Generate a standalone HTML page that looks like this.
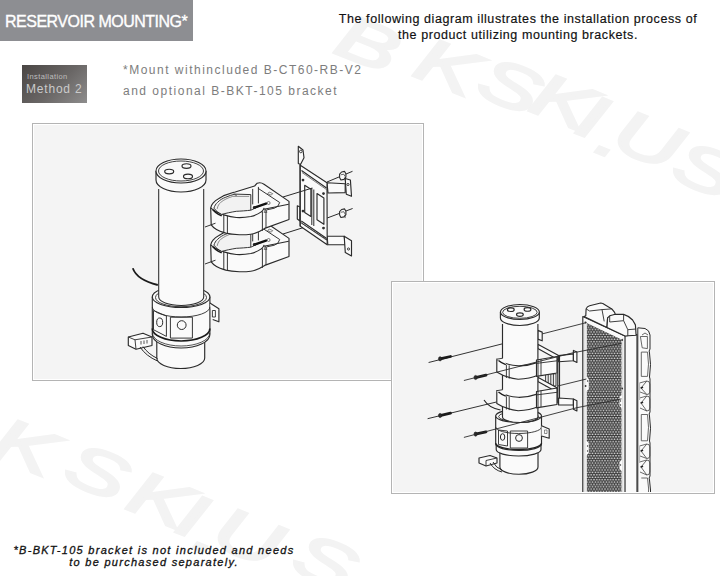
<!DOCTYPE html>
<html><head><meta charset="utf-8">
<style>
html,body{margin:0;padding:0;background:#fff;}
body{width:720px;height:576px;position:relative;overflow:hidden;font-family:"Liberation Sans",sans-serif;}
.abs{position:absolute;white-space:nowrap;}
#hdr{left:0;top:0;width:193px;height:41px;background:#8d8e92;}
#hdrt{left:5px;top:13px;font-size:16px;color:#fff;letter-spacing:-0.5px;-webkit-text-stroke:0.35px #fff;}
#intro{left:300px;top:11px;width:436px;text-align:center;font-size:12.5px;line-height:16.3px;color:#111;letter-spacing:0.58px;-webkit-text-stroke:0.18px #111;}
#badge{left:22px;top:65px;width:65px;height:38px;background:linear-gradient(135deg,#4a4644 0%,#6a6766 55%,#8e8d8d 100%);}
#b1{left:27px;top:72px;font-size:7.5px;color:#bdbdbd;letter-spacing:0.4px;}
#b2{left:26px;top:82px;font-size:12px;color:#cbcbcb;letter-spacing:0.8px;}
#m1{left:123px;top:63px;font-size:12px;color:#7d7d7d;letter-spacing:1.5px;}
#m2{left:123px;top:84px;font-size:12px;color:#7d7d7d;letter-spacing:1.5px;}
#note{left:0;top:544px;width:308px;text-align:center;font-size:11px;line-height:12.3px;font-style:italic;color:#111;letter-spacing:1.28px;-webkit-text-stroke:0.3px #111;}
.panel{position:absolute;background:#f4f4f4;border:1px solid #b4b4b4;box-shadow:inset 0 0 0 1px #fff;}
#p1{left:32px;top:123px;width:390px;height:256px;}
#p2{left:391px;top:281px;width:322px;height:211px;}
svg{position:absolute;left:0;top:0;}
</style></head>
<body>
<svg id="wm" width="720" height="576" viewBox="0 0 720 576" style="position:absolute;left:0;top:0">
<g font-family="Liberation Sans" font-weight="normal" font-style="italic" font-size="62" fill="#f3f3f3" stroke="#f3f3f3" stroke-width="2.5" text-anchor="middle">
<text transform="translate(368,44) rotate(22) scale(1.5,1)" dy="21">B</text>
<text transform="translate(447,67) rotate(22) scale(1.5,1)" dy="21">K</text>
<text transform="translate(510,86) rotate(22) scale(1.5,1)" dy="21">S</text>
<text transform="translate(563,102) rotate(22) scale(1.5,1)" dy="21">K</text>
<text transform="translate(592,117) rotate(22) scale(1.5,1)" dy="21">I</text>
<text transform="translate(612,136) rotate(22) scale(1.5,1)" dy="21">.</text>
<text transform="translate(648,140) rotate(22) scale(1.5,1)" dy="21">U</text>
<text transform="translate(705,170) rotate(22) scale(1.5,1)" dy="21">S</text>
<text transform="translate(-40,425) rotate(22) scale(1.5,1)" dy="21">B</text>
<text transform="translate(25,447) rotate(22) scale(1.5,1)" dy="21">K</text>
<text transform="translate(97,472) rotate(22) scale(1.5,1)" dy="21">S</text>
<text transform="translate(160,500) rotate(22) scale(1.5,1)" dy="21">K</text>
<text transform="translate(192,516) rotate(22) scale(1.5,1)" dy="21">I</text>
<text transform="translate(210,532) rotate(22) scale(1.5,1)" dy="21">.</text>
<text transform="translate(248,537) rotate(22) scale(1.5,1)" dy="21">U</text>
<text transform="translate(325,562) rotate(22) scale(1.5,1)" dy="21">S</text>
</g></svg>
<div id="hdr" class="abs"></div>
<div id="hdrt" class="abs">RESERVOIR MOUNTING*</div>
<div id="intro" class="abs">The following diagram illustrates the installation process of<br>the product utilizing mounting brackets.</div>
<div id="badge" class="abs"></div>
<div id="b1" class="abs">Installation</div>
<div id="b2" class="abs">Method 2</div>
<div id="m1" class="abs">*Mount withincluded B-CT60-RB-V2</div>
<div id="m2" class="abs">and optional B-BKT-105 bracket</div>
<div id="p1" class="panel"></div>
<svg id="d1" width="720" height="576" viewBox="0 0 720 576" style="position:absolute;left:0;top:0">
<defs>
<g id="clamp" fill="#fafafa" stroke="#2b2b2b" stroke-width="1.15" stroke-linejoin="round">
 <path d="M0,0 C0.5,-2 1,-3.3 2.1,-4.5 C4,-6.8 6,-8.3 7.8,-9.1 C10,-10.6 11.5,-11.4 13.1,-12.3 L22.4,-15.4 L24.5,-15.9 L43.9,-21.9 L46.5,-24.7 Q50,-26 53.3,-23.65 L78.3,-6.5 L78.3,11.6 L54,20.5 C50,23 45,25.8 40.1,26.3 C35,26.9 32,26.9 28.7,26.8 C24,26.5 19,26 15.1,25.2 C11,24 8,23 5.8,21.6 C3,19.8 1.5,18.5 0.5,17 Z"/>
 <path d="M0,0 C1.5,1.3 3,2.5 4.7,3.4 C7.5,5 10,6.2 13.1,7 C17,8.2 21,9.3 25.6,9.6 C31,9.9 36,9.4 40.1,8.6 C44,7.6 48,5.8 50.5,4 C52,3 53,1.5 53.5,0" fill="none"/>
 <path d="M3.2,0.2 C4,-2 5,-4 6.8,-5.5 C9,-7.8 12,-9.6 15.1,-10.7 C18,-12 21,-13 24.5,-13.8 L40.1,-13.3 L40.1,2.3 C36,2.8 30,3.2 25.6,3.4 C20,4.3 15,5.4 11,6.5 C8,5 5,2.8 3.2,0.2 Z" fill="#f2f2f2" stroke-width="0.95"/>
 <path d="M6.5,1 C7,-2 8.5,-4.2 10,-5.5 C13,-8 17,-10 22,-11.5 L38.5,-11.5" fill="none" stroke-width="0.7" stroke="#666"/>
 <path d="M2.1,1.8 C4,3.8 6,5.5 7.8,6.5 L11,8" fill="none" stroke="#1a1a1a" stroke-width="1.6"/>
 <path d="M40.1,2.3 L50.5,-2.5" fill="none" stroke-width="0.9"/>
 <path d="M53.3,1.3 L78,-3.6" fill="none"/>
 <path d="M13.1,7 L13.1,25 M16.7,8 L16.7,25.8 M51.7,3.4 L51.7,23 M55.3,2 L55.3,20.1" fill="none" stroke-width="0.95"/>
 <path d="M42,-19 L42,-3.5 M47.7,-21 L47.7,-4.5" fill="none" stroke-width="0.95"/>
 <path d="M47.5,-19.5 L69,-5.4 Q68,-1 63.7,0.3 L56,2" fill="none" stroke-width="0.95"/>
 <path d="M22.8,-14 L26,-12.6" fill="none" stroke="#555" stroke-width="1.3"/>
 <path d="M58.5,-15.9 l3.5,1.6 l-1.5,1.6 l-3.5,-1.6 z" fill="none" stroke-width="0.6"/>
 <path d="M43.5,-0.3 L55.3,-4.3" stroke="#111" stroke-width="2.4" stroke-linecap="round"/>
 <circle cx="43.6" cy="-0.4" r="1.5" fill="#222" stroke="none"/>
 <circle cx="57.9" cy="-4.9" r="1.5" fill="none" stroke-width="0.6"/>
 <path d="M53.3,4.5 l1.5,-3.5 l1.5,3.5 z" fill="none" stroke-width="0.6"/>
 <path d="M-5.7,19.1 L4.8,15.3" fill="none" stroke-width="0.95"/>
</g>
</defs>
<!-- reservoir 1 -->
<g fill="#fafafa" stroke="#2b2b2b" stroke-width="1.15" stroke-linejoin="round">
 <!-- collar body -->
 <path d="M156.8,340 L156.8,358 A23.95,10.5 0 0 0 204.7,358 L204.7,340 Z" />
 <path d="M152.3,297 L152.3,334.5 A28.8,13.5 0 0 0 209.9,334.5 L209.9,297 Z" />
 <ellipse cx="181.1" cy="297" rx="28.8" ry="10.5"/>
 <ellipse cx="181" cy="297.5" rx="25.5" ry="9.2" fill="none" stroke-width="0.9"/>
 <!-- tube -->
 <path d="M158.7,189 L158.7,297 A22.5,8.4 0 0 0 203.7,297 L203.7,189 Z" stroke="none"/>
 <path d="M158.7,189 L158.7,297 A22.5,8.4 0 0 0 203.7,297 L203.7,189" fill="none" stroke-width="1.05"/>
 <!-- cap -->
 <path d="M156,171 L156,180 A25,12 0 0 0 206,180 L206,171" />
 <ellipse cx="181" cy="171" rx="25" ry="12"/>
 <ellipse cx="181" cy="171" rx="22.5" ry="10" fill="none" stroke-width="0.9"/>
 <ellipse cx="169.2" cy="171.5" rx="4.5" ry="2.3" fill="none"/>
 <ellipse cx="186.5" cy="166" rx="4.5" ry="2.3" fill="none"/>
 <ellipse cx="188" cy="176.4" rx="4.5" ry="2.3" fill="none"/>
 <path d="M152.3,307 A28.8,10 0 0 0 209.9,307" fill="none" stroke-width="0.9"/>
 <path d="M153.5,310.5 L166.4,316 L166.4,336.4 L153.5,329.7 Z" fill="none" stroke-width="0.95"/>
 <ellipse cx="159.7" cy="322.3" rx="3" ry="4.3" fill="none" stroke-width="1"/>
 <path d="M170.4,317.2 L192.4,317.2 L192.4,338.1 L170.4,338.1 Z" fill="none" stroke-width="0.95"/>
 <circle cx="181.7" cy="325.1" r="4.4" fill="none" stroke-width="1"/>
 <path d="M152.3,328.5 A28.8,12.5 0 0 0 209.9,328.5" fill="none" stroke="#1a1a1a" stroke-width="1.7"/>
 <path d="M152.5,333 A28.6,13 0 0 0 209.7,333" fill="none" stroke-width="0.8"/>
 <path d="M209.9,303.1 L218.9,308.8 L218.9,321.8 L212.7,319.5" />
 <rect x="212.4" y="310.5" width="3" height="6.5" fill="none" stroke-width="0.9"/>
 <!-- connector -->
 <path d="M128.3,337 L143,333.2 L152,337 L152,345.5 L136,349.2 L128.3,345.5 Z"/>
 <path d="M135,339.8 L152,337 M135,339.8 L136,349.2 M128.3,337 L135,339.8" fill="none" stroke-width="0.9"/>
 <path d="M141,341 l0,3.5 M144,340.5 l0,3.5 M147,340 l0,3.5" fill="none" stroke-width="0.8"/>
 <path d="M140,347 Q146,356 157.5,361 M143,346.5 Q148,354 157.5,358.5" fill="none" stroke-width="1"/>
 <path d="M132.8,268.3 Q137,280 157.8,285" fill="none" stroke="#1a1a1a" stroke-width="1.8"/>
</g>

<use href="#clamp" x="210.7" y="244.9"/>
<use href="#clamp" x="210.7" y="207.9"/>
<!-- bracket -->
<g fill="#fafafa" stroke="#2b2b2b" stroke-width="1.15" stroke-linejoin="round">
 <path d="M298.3,146.3 L303,150 L304,157.7 L300.5,164.5 L298.3,163.4 Z"/>
 <circle cx="300.8" cy="151.5" r="1.3" fill="none" stroke-width="0.9"/>
 <path d="M327,182.7 L345.2,183.8 L345.2,192.6 L328,193 Z"/>
 <path d="M345.2,178.5 L350.4,180 L351.5,196.3 L346.3,194.2 Z"/>
 <path d="M327.2,236.2 L344.2,236.2 L345.3,244.7 L327.8,244.7 Z"/>
 <path d="M344.2,236.2 L351.5,240.7 L351.5,256 L345.3,252.6 Z"/>
 <circle cx="348.5" cy="249" r="1.1" fill="none" stroke-width="0.9"/>
 <circle cx="348" cy="184.5" r="1.1" fill="none" stroke-width="0.9"/>
 <path d="M297.3,205.7 L300,207 L300,221 L297.3,219 Z"/>
 <path d="M299.9,165 L327,182.7 L327.2,244.7 L300,226 Z"/>
 <path d="M300,222 L327.2,240" fill="none" stroke-width="0.9"/>
 <path d="M301.5,170.5 L326.5,188 M301.3,221 L326.7,238.5" fill="none" stroke-width="1.1"/><path d="M302,172.5 L326.5,189.6 M301.3,223 L326.7,240.3" fill="none" stroke-width="0.6"/>
 <path d="M300.4,165 L300.4,226" fill="none" stroke-width="0.9"/>
 <path d="M304.7,185.3 L310.9,189.3 L310.9,216.4 L304.7,212.4 Z" fill="none"/>
 <path d="M317,193.5 L323.9,198 L323.9,224.3 L317,219.8 Z" fill="none"/>
 <path d="M311.8,188 L311.8,225 M313.8,189.5 L313.8,226" fill="none" stroke-width="1"/>
 <circle cx="303" cy="180" r="0.8" fill="#3a3a3a"/>
 <circle cx="323.5" cy="193.5" r="0.8" fill="#3a3a3a"/>
 <circle cx="303" cy="211" r="0.8" fill="#3a3a3a"/>
 <circle cx="323.5" cy="228" r="0.8" fill="#3a3a3a"/>
 <path d="M283,197 L312.4,188 M283,234 L303,227.7 M327,182 L352.5,171.3 M327.2,218 L352.6,208.5" fill="none" stroke-width="1"/>
 <path d="M339.6,174.2 l2,-2.2 l3,-0.6 l1.3,2.4 l0,3.4 l-2,2.2 l-3,0.6 l-1.3,-2.4 z" stroke-width="1.1"/><path d="M340.8,174.8 l3,-0.6 l1.3,2.4 M345.1,177.2 l0,3.4" fill="none" stroke-width="0.7"/>
 <path d="M339.6,211.7 l2,-2.2 l3,-0.6 l1.3,2.4 l0,3.4 l-2,2.2 l-3,0.6 l-1.3,-2.4 z" stroke-width="1.1"/><path d="M340.8,212.3 l3,-0.6 l1.3,2.4 M345.1,214.7 l0,3.4" fill="none" stroke-width="0.7"/>
 
</g>
</svg>

<div id="p2" class="panel"></div>
<svg id="d2" width="720" height="576" viewBox="0 0 720 576" style="position:absolute;left:0;top:0">
<defs>
<pattern id="mesh" x="0" y="0" width="2.75" height="4.76" patternUnits="userSpaceOnUse">
 <rect width="2.75" height="4.76" fill="#3c3c3c"/>
 <circle cx="1.375" cy="1.19" r="0.82" fill="#e8e8e8"/>
 <circle cx="0" cy="3.57" r="0.82" fill="#e8e8e8"/>
 <circle cx="2.75" cy="3.57" r="0.82" fill="#e8e8e8"/>
</pattern>
<clipPath id="p2clip"><rect x="392" y="282" width="321" height="210"/></clipPath>
<g id="screw">
 <path d="M1.5,-0.3 L11,-2.4" stroke="#1a1a1a" stroke-width="2.8" stroke-linecap="round"/>
 <ellipse cx="0.6" cy="-0.1" rx="1.6" ry="2.1" fill="#2a2a2a" stroke="#1a1a1a" stroke-width="0.6"/>
</g>
<g id="band" fill="#fafafa" stroke="#2b2b2b" stroke-width="1.15" stroke-linejoin="round">
 <path d="M496.8,359.2 L496.8,372 Q505,377.5 518.2,379.3 Q530,378.5 538,375.2 L538,362.4 Q528,366 518.2,365.8 Q505,365 496.8,359.2 Z"/>
 <path d="M496.5,359.5 L503.5,358 L506.5,364.8 Q500,363 496.5,359.5 Z" stroke="none"/>
 <path d="M496.8,359.2 L502.8,358.2" fill="none" stroke-width="0.9"/>
 <path d="M498.5,360.5 Q501.5,363 505.8,364.7" fill="none" stroke="#1a1a1a" stroke-width="1.4"/>
 <path d="M506.4,364.8 L506.4,378 M509.2,365.3 L509.2,378.6" fill="none" stroke-width="0.9"/>
 <path d="M536.5,360 L557,356.5 L557,373 L536.5,376.4 Z"/>
 <path d="M536.5,363.4 L557,360.8" fill="none" stroke-width="0.9"/>
 <path d="M538,359.5 L538,376 M541,359 L541,375.5" fill="none" stroke-width="0.9"/>
</g>
</defs>
<g clip-path="url(#p2clip)">
<!-- bracket arms behind reservoir -->
<g fill="#fafafa" stroke="#2b2b2b" stroke-width="1.15" stroke-linejoin="round">
 <path d="M537.8,330.4 L542.2,332.1 L542.2,340.8 L537.8,339.1 Z"/>
 <path d="M537.8,344.3 L558.6,355.6 L558.6,360 L537.8,348.6 Z"/>
 <path d="M558.6,355.6 L573.4,353.9 L573.4,360.8 L558.6,361.7 Z"/>
 <path d="M573.4,350.4 L576.9,352.1 L576.9,362.5 L573.4,360.8 Z"/>
 <path d="M557.8,355.6 L557.8,403.3 M559.5,355.6 L559.5,398" fill="none"/>
 <path d="M545.6,373.8 L556,373.8 L556,386 L545.6,386 Z" fill="#f0f0f0" stroke-width="0.9"/>
 <path d="M548.2,374 L548.2,386 M550.8,374 L550.8,386 M553.4,374 L553.4,386" fill="none" stroke-width="0.9"/>
 <path d="M537.8,377.3 L557,387.7 L557,392 L537.8,381.5 Z"/>
 <path d="M558.6,398 L573.4,399 L573.4,405 L558.6,405 Z"/>
 <path d="M573.4,399 L576.9,400.7 L576.9,411 L573.4,409.3 Z"/>
</g>
<!-- guide lines to radiator -->

<!-- reservoir 2 -->
<g fill="#fafafa" stroke="#2b2b2b" stroke-width="1.15" stroke-linejoin="round">
 <!-- pump -->
 <path d="M499.9,448 L499.9,467 A19.05,7.3 0 0 0 538,467 L538,448 Z"/>
 <path d="M496.2,443 L496.2,449.5 A22.4,6.5 0 0 0 541,449.5 L541,443 Z"/>
 <path d="M495.7,416 L495.7,444 A22.9,6.5 0 0 0 541.5,444 L541.5,416 Z"/>
 <ellipse cx="518.6" cy="416" rx="22.9" ry="6.5"/>
 <ellipse cx="518.6" cy="416.6" rx="20" ry="5.2" fill="none" stroke-width="0.9"/>
 <path d="M502.5,324 L502.5,417 A17.7,5.5 0 0 0 537.9,417 L537.9,324 Z" stroke="none"/>
 <path d="M502.5,324 L502.5,417 A17.7,5.5 0 0 0 537.9,417 L537.9,324" fill="none"/>
 <path d="M500.4,312 L500.4,318 A19.45,7.5 0 0 0 539.3,318 L539.3,312" />
 <ellipse cx="519.9" cy="312" rx="19.45" ry="7.5"/>
 <ellipse cx="519.9" cy="312.3" rx="17.3" ry="6" fill="none" stroke-width="0.9"/>
 <ellipse cx="510.8" cy="309.7" rx="3.4" ry="1.8" fill="none"/>
 <ellipse cx="527.5" cy="309.4" rx="3.4" ry="1.8" fill="none"/>
 <ellipse cx="519.9" cy="314.6" rx="3.4" ry="1.8" fill="none"/>
 <path d="M495.7,427 A22.9,6.5 0 0 0 541.5,427" fill="none" stroke-width="0.9"/>
 <path d="M495.7,443 A22.9,6.5 0 0 0 541.5,443" fill="none" stroke="#222" stroke-width="1.3"/>
 <path d="M498.5,430 L507.5,431 L507.5,446 L498.5,444.5 Z" fill="none" stroke-width="0.9"/>
 <ellipse cx="502.6" cy="437" rx="2.2" ry="3.3" fill="none" stroke-width="1"/>
 <path d="M510.3,431 L527.6,431 L527.6,448 L510.3,448 Z" fill="none" stroke-width="0.9"/>
 <circle cx="519" cy="438" r="3.4" fill="none" stroke-width="1"/>
 <path d="M541.5,425.7 L549.2,429 L549.2,438.2 L541.5,436" />
 <rect x="544.5" y="430" width="2.5" height="3.5" fill="none" stroke-width="0.5"/>
 <!-- connector -->
 <path d="M479,458 L490,455.5 L497,458 L497,463 L486,466 L479,463 Z"/>
 <path d="M486,460.5 L497,458 M486,460.5 L486,466" fill="none" stroke-width="0.9"/>
 <path d="M490,463 Q494,470 502,472 M493,462 Q496,468 502,470" fill="none" stroke-width="1"/>
 <path d="M484,400 Q489,408 500.5,410" fill="none" stroke="#222" stroke-width="1.1"/>
</g>
<use href="#band"/>
<use href="#band" y="31.5"/>
<!-- screws and guide lines -->
<g fill="none" stroke="#333" stroke-width="1">
 <path d="M428.6,362.5 L502.5,343.8 M427.6,418.7 L496.4,402"/>
</g>
<use href="#screw" x="439.5" y="358.9"/>
<use href="#screw" x="475" y="377.6"/>
<use href="#screw" x="439.5" y="415.6"/>
<use href="#screw" x="475" y="434.2"/>
<!-- radiator -->
<g fill="#fafafa" stroke="#2b2b2b" stroke-width="1.15" stroke-linejoin="round">
 <path d="M624.5,336 L637,334.5 L637,500 L624.5,500 Z"/>
 <path d="M582.8,316.5 L625,336 L625,500 L582.8,500 Z"/>
 <path d="M584.9,321 L584.9,500 M622.8,338 L622.8,500" fill="none" stroke="#bbb" stroke-width="0.6"/>
 <path d="M586.8,323 L621.5,339.5 L621.5,395 L619.5,397 L619.5,406 L621.5,408 L621.5,460 L619.5,462 L619.5,469 L621.5,471 L621.5,500 L586.8,500 L586.8,455 L588.8,453 L588.8,443 L586.8,441 L586.8,391 L588.8,389 L588.8,379 L586.8,377 Z" fill="url(#mesh)" stroke="none"/>
 <!-- end tank bumps -->
 <path d="M584,316.5 L585.8,315.8 L586.1,308.9 Q587,306.5 589.6,305.8 L600.7,303 Q602,303 602.8,303.6 L611.8,308.9 L614.6,312.4 L615.3,314.4 L607.6,317.9 L607,327.5 Z"/>
 <path d="M589.6,311 L602,309.6 L604.2,321.4 M602,309.6 L611.8,308.9 M586.1,308.9 L589.6,311" fill="none" stroke-width="0.9"/>
 <path d="M607,327.5 L607.6,317.9 L609.7,315.8 L615.3,314.2 L623.6,314.4 Q629,316 632.6,320 L635.4,324.9 L636.1,335.3 L625,336 Z"/>
 <path d="M609.7,315.8 L609.7,322 L623.6,320.7 L627.8,329.7 L627.8,335.8 M623.6,320.7 L623.6,314.4 M627.8,329.7 L636.1,329" fill="none" stroke-width="0.9"/>
 <circle cx="585.6" cy="322.5" r="0.9" fill="#333" stroke="none"/>
 <circle cx="622.2" cy="340" r="0.9" fill="#333" stroke="none"/>
 <circle cx="585.6" cy="386" r="0.9" fill="#333" stroke="none"/>
 <circle cx="622.2" cy="388.5" r="0.9" fill="#333" stroke="none"/>
 <circle cx="587.6" cy="446" r="0.7" fill="#333" stroke="none"/><circle cx="587.6" cy="451" r="0.7" fill="#333" stroke="none"/><circle cx="587.6" cy="381" r="0.7" fill="#333" stroke="none"/>
 <circle cx="620.5" cy="465" r="0.7" fill="#333" stroke="none"/><circle cx="620.5" cy="401" r="0.7" fill="#333" stroke="none"/><circle cx="620.5" cy="405" r="0.7" fill="#333" stroke="none"/>
 <!-- fans -->
 <path d="M637.8,327.8 L645,328.5 Q649.5,330 650,335 L650,349 Q648.5,351 649.5,353 Q651.5,364 649.5,377 L650,379 L650,412 Q648.5,414 649.5,416 Q651.5,428 649.5,441 L650,443 L650,476 Q648.5,478 649.5,480 Q651,490 650.5,500 L637.8,500 Z" stroke-width="1"/>
 <g fill="none" stroke="#444" stroke-width="0.8">
 <path d="M640.4,336.5 L647.4,336.5 L647.4,348.6 L642.2,347.8 Z M642,335 L645,333 L648,335"/>
 <path d="M641.3,352.1 L647.5,352.1 Q649.5,364 647.5,376.4 L641.3,376.4 Z"/>
 <path d="M641.3,414.5 L647.5,414.5 Q649.5,427 647.5,440.8 L641.3,440.8 Z"/>
 <path d="M641.3,478 L647.5,478 Q649.5,489 648,500"/>
 <path d="M646.8,381 Q649.8,381 649.8,384 L649.8,392 Q649.8,394.5 646.8,394.5 M646.8,396 Q649.8,396 649.8,399 L649.8,408 Q649.8,411 646.8,411"/>
 <path d="M639.5,383 L646.8,381 L641,388 L646.8,394.5 L640,392 M639.5,398 L646.8,396 L641,403 L646.8,411 L640,408"/>
 <path d="M646.8,444 Q649.8,444 649.8,447 L649.8,456 Q649.8,458.5 646.8,458.5 M646.8,460 Q649.8,460 649.8,463 L649.8,472 Q649.8,475 646.8,475"/>
 <path d="M639.5,446 L646.8,444 L641,451 L646.8,458.5 L640,456 M639.5,462 L646.8,460 L641,467 L646.8,475 L640,472"/>
 </g>
 <path d="M640.6,388 l2.5,-0.8 M640.6,403 l2.5,-0.8 M640.6,451 l2.5,-0.8 M640.6,467 l2.5,-0.8" stroke="#222" stroke-width="1.5" fill="none"/>
 <rect x="638.6" y="383" width="1.5" height="17" fill="#bdbdbd" stroke="none"/>
 <rect x="638.6" y="446" width="1.5" height="17" fill="#bdbdbd" stroke="none"/>
</g>
<g fill="none" stroke="#2b2b2b" stroke-width="0.9">
 <path d="M542.2,333.9 L586.4,322.6 M576.9,352.1 L621.5,343.3 M557.8,386 L586.4,379 M576.9,407.7 L621.5,398.9"/>
</g>
<g fill="none" stroke="#2b2b2b" stroke-width="0.9">
 <path d="M463.9,380.5 L576.9,351.8 M463.9,437.4 L576.9,407.7"/>
</g>
</g>
</svg>

<div id="note" class="abs">*B-BKT-105 bracket is not included and needs<br>to be purchased separately.</div>
</body></html>
